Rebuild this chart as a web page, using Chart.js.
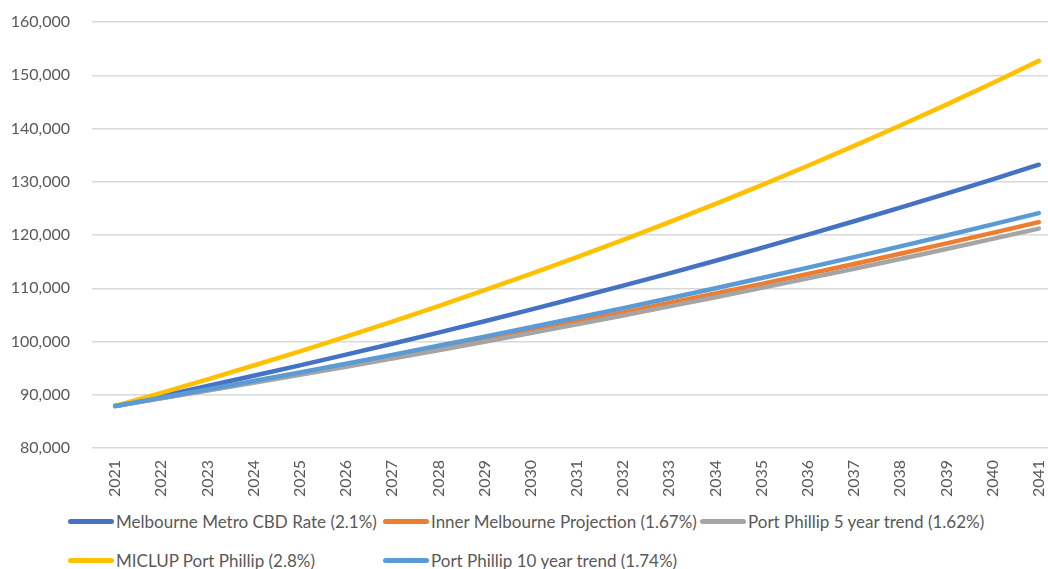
<!DOCTYPE html>
<html>
<head>
<meta charset="utf-8">
<script src="https://cdn.jsdelivr.net/npm/chart.js@4/dist/chart.umd.min.js"></script>
<style>
    html, body { margin: 0; padding: 0; background: #fff; overflow: hidden; }
    body { width: 1048px; height: 569px; position: relative; font-family: Lato, sans-serif; }
    #wrap { position: absolute; left: 0; top: 0; width: 1062px; height: 505px; }
    .leg { position: absolute; display: flex; align-items: center; font-size: 17px; color: #595959; white-space: nowrap; }
    .leg span.ln { display: inline-block; width: 46px; height: 5px; border-radius: 3px; margin-right: 2px; }
</style>
</head>
<body>
<div id="wrap"><canvas id="lineChart"></canvas></div>
<div id="legend"></div>
<script>
    const years = ['2021', '2022', '2023', '2024', '2025', '2026', '2027', '2028', '2029', '2030',
        '2031', '2032', '2033', '2034', '2035', '2036', '2037', '2038', '2039', '2040', '2041'];

    const seriesNames = ['Melbourne Metro CBD Rate (2.1%)', 'Inner Melbourne Projection (1.67%)',
        'Port Phillip 5 year trend (1.62%)', 'MICLUP Port Phillip (2.8%)', 'Port Phillip 10 year trend (1.74%)'];
    const seriesColors = ['#4472C4', '#ED7D31', '#A5A5A5', '#FFC000', '#5B9BD5'];

    const metroCbd = [87900, 89750, 91630, 93560, 95520, 97530, 99580, 101670, 103800, 105980,
        108210, 110480, 112800, 115170, 117590, 120060, 122580, 125150, 127780, 130460, 133200];
    const innerMelb = [87900, 89370, 90860, 92380, 93920, 95490, 97080, 98700, 100350, 102030,
        103730, 105460, 107220, 109010, 110830, 112680, 114560, 116480, 118420, 120400, 122410];
    const pp5Year = [87900, 89320, 90770, 92240, 93730, 95250, 96790, 98360, 99950, 101570,
        103220, 104890, 106590, 108310, 110070, 111850, 113660, 115500, 117370, 119270, 121200];
    const miclup = [87900, 90360, 92890, 95490, 98160, 100910, 103740, 106640, 109630, 112700,
        115850, 119100, 122430, 125860, 129380, 133010, 136730, 140560, 144490, 148540, 152700];
    const pp10Year = [87900, 89430, 90990, 92570, 94180, 95820, 97490, 99190, 100910, 102670,
        104460, 106270, 108120, 110000, 111920, 113870, 115850, 117860, 119910, 122000, 124120];

    const allSeries = [metroCbd, innerMelb, pp5Year, miclup, pp10Year];

    const yMin = 80000;
    const yMax = 160000;
    const yStep = 10000;

    const textColor = '#595959';
    const fontFamily = 'Lato, sans-serif';

    const datasets = allSeries.map((vals, i) => ({
        label: seriesNames[i],
        data: vals,
        borderColor: seriesColors[i],
        backgroundColor: seriesColors[i],
        borderWidth: 4.5,
        pointRadius: 0,
        tension: 0,
        borderCapStyle: 'round',
        borderJoinStyle: 'round',
        order: allSeries.length - i // later series on top, like Excel
    }));

    new Chart(document.getElementById('lineChart'), {
        type: 'line',
        data: { labels: years, datasets: datasets },
        options: {
            responsive: true,
            maintainAspectRatio: false,
            animation: false,
            layout: { padding: { top: 22, right: 0, bottom: 0, left: 0 } },
            plugins: {
                legend: { display: false },
                tooltip: { enabled: false }
            },
            scales: {
                x: {
                    offset: true,
                    grid: { display: false },
                    border: { display: false },
                    ticks: {
                        color: textColor,
                        font: { family: fontFamily, size: 16 },
                        minRotation: 90,
                        maxRotation: 90,
                        padding: 4,
                        autoSkip: false
                    },
                    afterFit: (scale) => {
                        scale.height = 57;
                        scale.paddingTop = 0;
                        scale.paddingBottom = 0;
                    }
                },
                y: {
                    min: yMin,
                    max: yMax,
                    grid: { color: '#D9D9D9', lineWidth: 1.5, drawTicks: false },
                    border: { display: false },
                    ticks: {
                        stepSize: yStep,
                        color: textColor,
                        font: { family: fontFamily, size: 16 },
                        padding: 22,
                        callback: (v) => v.toLocaleString('en-US')
                    },
                    afterFit: (scale) => {
                        scale.width = 92;
                        scale.paddingTop = 0;
                        scale.paddingBottom = 0;
                    }
                }
            }
        }
    });

    // legend laid out in columns like the original
    const legendPos = [[68, 522], [383, 522], [700, 522], [68, 561], [383, 561]];
    const legendBox = document.getElementById('legend');
    seriesNames.forEach((name, i) => {
        const item = document.createElement('div');
        item.className = 'leg';
        item.style.left = legendPos[i][0] + 'px';
        item.style.top = (legendPos[i][1] - 11) + 'px';
        item.innerHTML = '<span class="ln" style="background:' + seriesColors[i] + '"></span>' + name;
        legendBox.appendChild(item);
    });
</script>
</body>
</html>
